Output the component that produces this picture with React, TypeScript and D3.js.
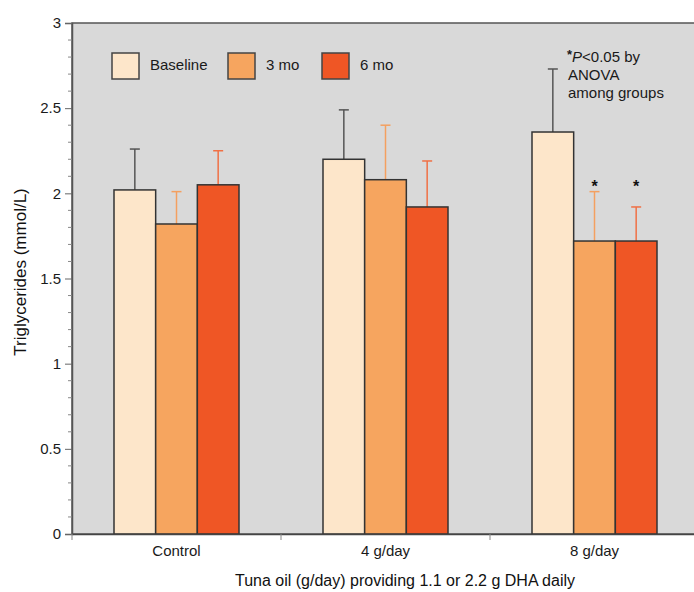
import React, { useEffect, useRef } from "react";
import * as d3 from "d3";

const groups = ["Control", "4 g/day", "8 g/day"];
const seriesNames = ["Baseline", "3 mo", "6 mo"];
const baselineVals = [2.02, 2.2, 2.36];
const mo3Vals = [1.82, 2.08, 1.72];
const mo6Vals = [2.05, 1.92, 1.72];
const baselineErr = [0.24, 0.29, 0.37];
const mo3Err = [0.19, 0.32, 0.29];
const mo6Err = [0.2, 0.27, 0.2];
const significant = [
  [false, false, false],
  [false, false, false],
  [false, true, true],
];
const yTicks = [0, 0.5, 1, 1.5, 2, 2.5, 3];

const fills = ["#fde6ca", "#f6a55f", "#ef5625"];
const errColors = ["#555555", "#f4a060", "#f07045"];

export default function App() {
  const ref = useRef<SVGSVGElement>(null);

  useEffect(() => {
    const svg = d3.select(ref.current);
    svg.selectAll("*").remove();

    const margin = { top: 23, left: 72, bottom: 58 };
    const H = 592;
    const plotRight = 699;
    const bottom = H - margin.bottom;
    const font = "'Liberation Sans', Arial, sans-serif";

    const x = d3
      .scaleBand()
      .domain(groups)
      .range([margin.left, margin.left + 209 * 3]);
    const x1 = d3.scaleBand().domain(seriesNames).range([0, 125]);
    const y = d3.scaleLinear().domain([0, 3]).range([bottom, margin.top]);

    svg
      .append("rect")
      .attr("x", margin.left)
      .attr("y", margin.top)
      .attr("width", plotRight - margin.left)
      .attr("height", bottom - margin.top)
      .attr("fill", "#d9d9d9")
      .attr("stroke", "#555")
      .attr("stroke-width", 1.5);

    const data = [baselineVals, mo3Vals, mo6Vals];
    const errs = [baselineErr, mo3Err, mo6Err];

    groups.forEach((g, gi) => {
      const gx = x(g)! + (x.bandwidth() - 125) / 2;
      seriesNames.forEach((s, si) => {
        const v = data[si][gi];
        const e = errs[si][gi];
        const bx = gx + x1(s)!;
        const cx = bx + x1.bandwidth() / 2;
        svg
          .append("line")
          .attr("x1", cx)
          .attr("x2", cx)
          .attr("y1", y(v))
          .attr("y2", y(v + e))
          .attr("stroke", errColors[si])
          .attr("stroke-width", 1.5);
        svg
          .append("line")
          .attr("x1", cx - 5)
          .attr("x2", cx + 5)
          .attr("y1", y(v + e))
          .attr("y2", y(v + e))
          .attr("stroke", errColors[si])
          .attr("stroke-width", 1.5);
        svg
          .append("rect")
          .attr("x", bx)
          .attr("y", y(v))
          .attr("width", x1.bandwidth())
          .attr("height", bottom - y(v))
          .attr("fill", fills[si])
          .attr("stroke", "#333")
          .attr("stroke-width", 1.5);
        if (significant[gi][si]) {
          svg
            .append("text")
            .attr("x", cx)
            .attr("y", y(2.0))
            .attr("dy", "-0.1em")
            .attr("text-anchor", "middle")
            .attr("font-family", font)
            .attr("font-size", 16)
            .attr("font-weight", "bold")
            .attr("fill", "#111")
            .text("*");
        }
      });
    });

    // y axis
    const yAxis = svg.append("g").attr("transform", `translate(${margin.left},0)`);
    yAxis
      .call(d3.axisLeft(y).tickValues(yTicks).tickSize(7).tickFormat(d3.format("")))
      .call((g) => g.select(".domain").attr("stroke", "#555").attr("stroke-width", 1.5))
      .call((g) => g.selectAll(".tick line").attr("stroke", "#666"))
      .call((g) =>
        g
          .selectAll(".tick text")
          .attr("font-family", font)
          .attr("font-size", 15)
          .attr("fill", "#1a1a1a")
          .attr("x", -11)
      );
    yAxis
      .selectAll(".minor")
      .data(d3.range(0, 31).filter((i) => i % 5 !== 0).map((i) => i / 10))
      .enter()
      .append("line")
      .attr("class", "minor")
      .attr("x1", -4)
      .attr("x2", 0)
      .attr("y1", (d) => y(d))
      .attr("y2", (d) => y(d))
      .attr("stroke", "#888");

    // x axis
    const xAxis = svg.append("g").attr("transform", `translate(0,${bottom})`);
    xAxis
      .call(d3.axisBottom(x).tickSize(0))
      .call((g) => g.select(".domain").attr("stroke", "#444").attr("stroke-width", 1.5))
      .call((g) =>
        g
          .selectAll(".tick text")
          .attr("font-family", font)
          .attr("font-size", 15)
          .attr("fill", "#1a1a1a")
          .attr("y", 22)
          .attr("dy", 0)
      );
    xAxis
      .selectAll(".sep")
      .data([0, 1, 2, 3])
      .enter()
      .append("line")
      .attr("x1", (d) => margin.left + d * x.bandwidth())
      .attr("x2", (d) => margin.left + d * x.bandwidth())
      .attr("y1", 0)
      .attr("y2", 6)
      .attr("stroke", "#888");

    // axis titles
    svg
      .append("text")
      .attr("transform", `translate(26,272) rotate(-90)`)
      .attr("text-anchor", "middle")
      .attr("font-family", font)
      .attr("font-size", 17)
      .attr("fill", "#111")
      .text("Triglycerides (mmol/L)");
    svg
      .append("text")
      .attr("x", 405)
      .attr("y", 586)
      .attr("text-anchor", "middle")
      .attr("font-family", font)
      .attr("font-size", 16)
      .attr("fill", "#111")
      .text("Tuna oil (g/day) providing 1.1 or 2.2 g DHA daily");

    // legend
    const legendX = [112, 228, 322];
    seriesNames.forEach((s, i) => {
      svg
        .append("rect")
        .attr("x", legendX[i])
        .attr("y", 53)
        .attr("width", 27)
        .attr("height", 26)
        .attr("fill", fills[i])
        .attr("stroke", "#444")
        .attr("stroke-width", 1.5);
      svg
        .append("text")
        .attr("x", legendX[i] + 38)
        .attr("y", 70)
        .attr("font-family", font)
        .attr("font-size", 15)
        .attr("fill", "#1a1a1a")
        .text(s);
    });

    // annotation
    const ann = svg
      .append("text")
      .attr("font-family", font)
      .attr("font-size", 15)
      .attr("fill", "#1a1a1a");
    ann.append("tspan").attr("x", 567).attr("y", 59).attr("font-weight", "bold").attr("font-size", 13).text("*");
    ann.append("tspan").attr("dy", 3).attr("font-style", "italic").text("P");
    ann.append("tspan").text("<0.05 by");
    ann.append("tspan").attr("x", 568).attr("y", 80).text("ANOVA");
    ann.append("tspan").attr("x", 568).attr("y", 98).text("among groups");
  }, []);

  return (
    <svg
      ref={ref}
      width={694}
      height={592}
      style={{ position: "absolute", left: 0, top: 0, background: "#fff" }}
    />
  );
}
